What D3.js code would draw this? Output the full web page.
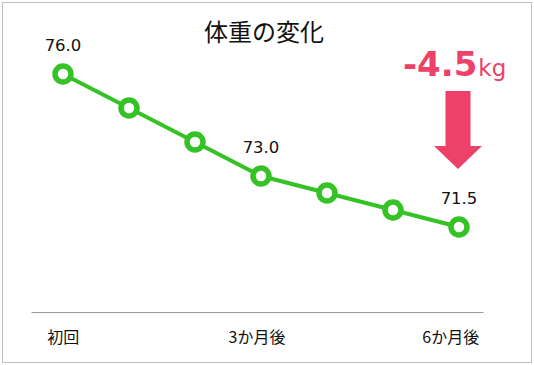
<!DOCTYPE html>
<html>
<head>
<meta charset="utf-8">
<script src="https://cdn.jsdelivr.net/npm/d3@7"></script>
<style>
  body { margin: 0; background: #fff; }
  text { font-family: "Noto Sans CJK JP", "Noto Sans", sans-serif; }
</style>
</head>
<body>
<div id="chart"></div>
<script>
// 体重の変化 data
const categories = ['初回', '1か月後', '2か月後', '3か月後', '4か月後', '5か月後', '6か月後'];
const weights = [76.0, 75.0, 74.0, 73.0, 72.5, 72.0, 71.5];
const tickLabels = ['初回', '', '', '3か月後', '', '', '6か月後'];
const valueLabels = ['76.0', '', '', '73.0', '', '', '71.5'];
const yDomain = [69, 77];
const changeValue = '-4.5';
const changeUnit = 'kg';

const width = 534, height = 365;
const green = '#35c224';
const pink = '#ee4169';

const svg = d3.select('#chart').append('svg')
  .attr('width', width)
  .attr('height', height);

// outer frame
svg.append('rect')
  .attr('x', 2.5).attr('y', 2.5)
  .attr('width', width - 5).attr('height', height - 5)
  .attr('fill', '#fff')
  .attr('stroke', '#c0c0c0');

// scales
const x = d3.scalePoint().domain(categories).range([63, 459]);
const xBand = d3.scaleBand().domain(categories).range([31, 483]);
const y = d3.scaleLinear().domain(yDomain).range([312, 40]);

// title
svg.append('text')
  .attr('x', 264).attr('y', 41)
  .attr('text-anchor', 'middle')
  .attr('font-size', 24)
  .attr('fill', '#111')
  .text('体重の変化');

// x axis
const xAxis = d3.axisBottom(xBand)
  .tickSize(0)
  .tickPadding(20)
  .tickFormat((d, i) => tickLabels[i]);

const gx = svg.append('g')
  .attr('transform', `translate(0,${y(yDomain[0])})`)
  .call(xAxis);
gx.select('.domain').attr('stroke', '#999').attr('stroke-width', 1);
gx.selectAll('text')
  .attr('font-size', 16)
  .attr('fill', '#111')
  .style('font-family', '"Noto Sans CJK JP", sans-serif');

// line
const line = d3.line()
  .x((d, i) => x(categories[i]))
  .y(d => y(d));

svg.append('path')
  .datum(weights)
  .attr('fill', 'none')
  .attr('stroke', green)
  .attr('stroke-width', 4)
  .attr('d', line);

// markers
svg.append('g')
  .selectAll('circle')
  .data(weights)
  .enter().append('circle')
  .attr('cx', (d, i) => x(categories[i]))
  .attr('cy', d => y(d))
  .attr('r', 8)
  .attr('fill', '#fff')
  .attr('stroke', green)
  .attr('stroke-width', 5.5);

// value labels
svg.append('g')
  .selectAll('text')
  .data(weights)
  .enter().append('text')
  .attr('x', (d, i) => x(categories[i]))
  .attr('y', d => y(d) - 23)
  .attr('text-anchor', 'middle')
  .attr('font-size', 16.5)
  .attr('fill', '#111')
  .style('font-family', '"DejaVu Sans", sans-serif')
  .text((d, i) => valueLabels[i]);

// change annotation
const note = svg.append('text')
  .attr('x', 403).attr('y', 76)
  .attr('fill', pink)
  .style('font-family', '"DejaVu Sans", sans-serif');
note.append('tspan')
  .attr('font-size', 34)
  .attr('font-weight', 'bold')
  .text(changeValue);
note.append('tspan')
  .attr('dx', 1)
  .attr('font-size', 23)
  .text(changeUnit);

// arrow down
const ax = 458;
svg.append('path')
  .attr('d', `M${ax - 12.5},91 H${ax + 12.5} V146 H${ax + 24} L${ax},169 L${ax - 24},146 H${ax - 12.5} Z`)
  .attr('fill', pink);
</script>
</body>
</html>
